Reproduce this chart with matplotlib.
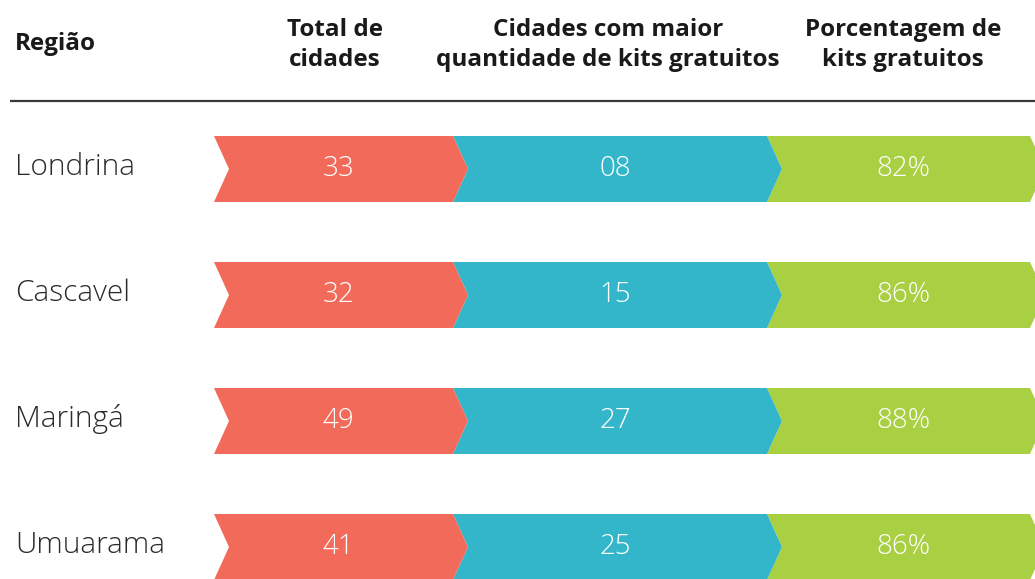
import matplotlib
matplotlib.use("Agg")
import matplotlib.pyplot as plt
from matplotlib.patches import Polygon

regions = ["Londrina", "Cascavel", "Maringá", "Umuarama"]
total_cidades = ["33", "32", "49", "41"]
cidades_maior = ["08", "15", "27", "25"]
porcentagem = ["82%", "86%", "88%", "86%"]
headers = ["Região", "Total de\ncidades", "Cidades com maior\nquantidade de kits gratuitos", "Porcentagem de\nkits gratuitos"]

colors = ["#F26B5A", "#33B6C9", "#A9CF42"]
W, H = 1035, 579
fig = plt.figure(figsize=(W / 100, H / 100), dpi=100)
ax = fig.add_axes([0, 0, 1, 1])
ax.set_xlim(0, W)
ax.set_ylim(H, 0)
ax.axis("off")

FONT = "Open Sans"
# header
ax.text(15, 44, headers[0], fontsize=17.5, fontweight="bold", family=FONT, color="#1a1a1a", va="center", ha="left")
hx = [335, 608, 903]
for x, h in zip(hx, headers[1:]):
    ax.text(x, 45, h, fontsize=17.5, fontweight="bold", family=FONT, color="#1a1a1a",
            va="center", ha="center", linespacing=1.35)
ax.plot([10, W], [101, 101], color="#3a3a3a", lw=1.6, solid_capstyle="butt")

edges = [214, 453, 767, 1030]
d = 15
row_h = 66
y_first = 169
row_step = 126
cols = [total_cidades, cidades_maior, porcentagem]
for i, reg in enumerate(regions):
    yc = y_first + i * row_step
    y0, y1 = yc - row_h / 2, yc + row_h / 2
    ax.text(15, yc - 2, reg, fontsize=21.5, fontweight="light", family=FONT, color="#2a2a2a", va="center", ha="left")
    for j in range(3):
        x0, x1 = edges[j], edges[j + 1]
        poly = Polygon([(x0, y0), (x1, y0), (x1 + d, yc), (x1, y1), (x0, y1), (x0 + d, yc)],
                       closed=True, facecolor=colors[j], edgecolor="none", zorder=3 - j)
        ax.add_patch(poly)
        ax.text((x0 + x1) / 2 + 5, yc, cols[j][i], fontsize=20, fontweight="light", family=FONT,
                color="white", va="center", ha="center", zorder=5)

fig.savefig("out.png", dpi=100)
